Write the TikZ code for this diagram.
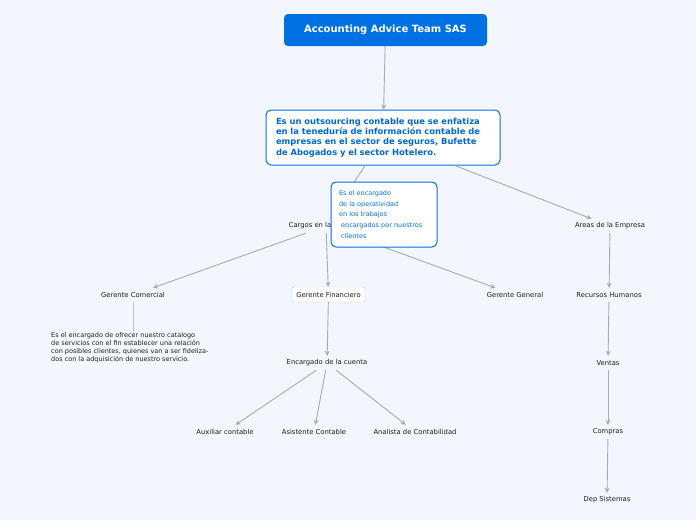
\documentclass[tikz,border=0pt]{standalone}
\usepackage{fontspec}
\setmainfont{DejaVu Sans}
\usetikzlibrary{arrows.meta}
\definecolor{bg}{RGB}{244,246,254}
\definecolor{tblue}{RGB}{0,113,227}
\definecolor{txtblue}{RGB}{0,104,214}
\definecolor{conn}{RGB}{168,170,180}
\definecolor{lbl}{RGB}{30,30,30}
\tikzset{
  arr/.style={draw=conn, line width=0.9pt, -{Stealth[length=5pt,width=5pt]}},
  plain/.style={draw=conn!70, line width=0.9pt},
  lab/.style={font=\fontsize{6.8}{8}\selectfont, text=lbl, inner xsep=3pt, minimum height=14pt},
  bluebox/.style={draw=tblue, line width=1pt, fill=white, rounded corners=5pt, align=left}
}
\begin{document}
\begin{tikzpicture}[x=1pt,y=-1pt]
\fill[bg] (0,0) rectangle (696,520);
\useasboundingbox (0,0) rectangle (696,520);

\node[fill=tblue, rounded corners=4pt, minimum width=203pt, minimum height=32pt, text=white, font=\bfseries\fontsize{10}{12}\selectfont] (title) at (385.5,30) {Accounting Advice Team SAS};

\node[bluebox, text width=214pt, minimum height=55pt, text=txtblue, font=\bfseries\fontsize{8.4}{10.4}\selectfont, inner xsep=10pt] (main) at (383,137.5) {Es un outsourcing contable que se enfatiza\\en la teneduría de información contable de\\empresas en el sector de seguros, Bufette\\de Abogados y el sector Hotelero.};

\node[lab] (cargos) at (326,226) {Cargos en la Empresa};
\node[lab] (areas) at (610,226) {Areas de la Empresa};

\node[lab] (comercial) at (133,295) {Gerente Comercial};
\node[lab, draw=conn!60, fill=white, rounded corners=2pt, minimum width=73pt, minimum height=15pt] (financiero) at (328.5,294.5) {Gerente Financiero};
\node[lab] (general) at (515,295) {Gerente General};

\node[font=\fontsize{6.5}{8}\selectfont, text=lbl, align=left, anchor=north west, inner sep=0pt] (desc) at (51,332) {Es el encargado de ofrecer nuestro catalogo\\de servicios con el fin establecer una relación\\con posibles clientes, quienes van a ser fideliza-\\dos con la adquisición de nuestro servicio.};

\node[lab] (cuenta) at (327,363) {Encargado de la cuenta};
\node[lab] (auxiliar) at (225,432) {Auxiliar contable};
\node[lab] (asistente) at (314,432) {Asistente Contable};
\node[lab] (analista) at (415,432) {Analista de Contabilidad};

\node[lab] (rrhh) at (609,295) {Recursos Humanos};
\node[lab] (ventas) at (608,363) {Ventas};
\node[lab] (compras) at (608,432) {Compras};
\node[lab] (sistemas) at (607,500) {Dep Sistemas};

\draw[arr] (title) -- (main);
\draw[arr] (main) -- (cargos);
\draw[arr] (main) -- (areas);
\draw[arr] (cargos) -- (comercial);
\draw[arr] (cargos) -- (financiero);
\draw[arr] (cargos) -- (general);
\draw[plain] (comercial) -- (desc.north -| comercial);
\draw[arr] (financiero) -- (cuenta);
\draw[arr] (cuenta) -- (auxiliar);
\draw[arr] (cuenta) -- (asistente);
\draw[arr] (cuenta) -- (analista);
\draw[arr] (areas) -- (rrhh);
\draw[arr] (rrhh) -- (ventas);
\draw[arr] (ventas) -- (compras);
\draw[arr] (compras) -- (sistemas);

\node[bluebox, text width=90pt, minimum height=65pt, text=tblue, font=\fontsize{6.5}{10.6}\selectfont, inner xsep=8pt] (callout) at (384,214.5) {\hyphenpenalty=10000\relax Es el encargado\\de la operatividad\\en los trabajos\\\ encargados por nuestros\\\ clientes};
\end{tikzpicture}
\end{document}
